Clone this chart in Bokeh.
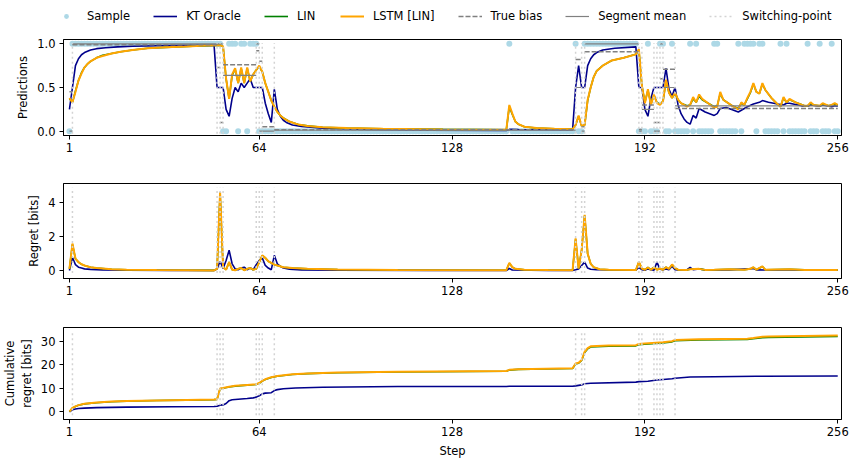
import numpy as np
from bokeh.plotting import figure
from bokeh.layouts import column
from bokeh.models import (FixedTicker, PrintfTickFormatter, Legend, LegendItem, Range1d)
from bokeh.core.properties import value
from bokeh.embed import file_html
from bokeh.resources import INLINE

# ---------------- data ----------------
n_steps = 256
x_ticks = [1, 64, 128, 192, 256]
switch_points = [2, 50, 51, 52, 63, 64, 65, 69, 169, 171, 172, 190, 191,
                 195, 196, 197, 198, 202]

# runs of steps where the sample was 1 (all other steps are 0)
sample_one_runs = [(2, 51), (54, 56), (58, 59), (61, 63), (147, 147), (169, 169),
                   (172, 189), (193, 193), (197, 198), (201, 201), (207, 207),
                   (209, 209), (215, 216), (223, 223), (225, 228), (230, 231),
                   (237, 237), (239, 239), (246, 246), (250, 250), (254, 254)]

seg_starts = [1, 2, 50, 51, 52, 63, 64, 65, 69, 169, 171, 172, 190, 191, 195, 196, 197, 198, 202]
seg_ends = [2, 50, 51, 52, 63, 64, 65, 69, 169, 171, 172, 190, 191, 195, 196, 197, 198, 202, 256]
true_bias = [0.45, 0.99, 0.73, 0.10, 0.76, 0.92, 0.80, 0.05, 0.015, 0.82, 0.05, 0.91,
             0.02, 0.30, 0.10, 0.10, 0.60, 0.71, 0.26]
segment_mean = [0.0, 1.0, 1.0, 1.0, 0.64, 1.0, 0.0, 0.0, 0.01, 0.5, 0.0, 1.0,
                0.0, 0.25, 0.0, 0.0, 1.0, 0.5, 0.29]

kt_pred = [(1, 0.25), (2, 0.5), (3, 0.75), (4, 0.83), (5, 0.875), (6, 0.9), (8, 0.93),
           (10, 0.945), (13, 0.955), (17, 0.965), (22, 0.972), (30, 0.978), (40, 0.983),
           (49, 0.985), (50, 0.5), (51, 0.5), (52, 0.5), (53, 0.25), (54, 0.17), (55, 0.375),
           (56, 0.5), (57, 0.45), (58, 0.55), (59, 0.5), (60, 0.55), (61, 0.6), (62, 0.5),
           (63, 0.5), (64, 0.5), (65, 0.5), (66, 0.32), (67, 0.2), (68, 0.1), (69, 0.48),
           (70, 0.25), (71, 0.17), (72, 0.125), (73, 0.1), (75, 0.07), (78, 0.055),
           (85, 0.035), (100, 0.02), (120, 0.012), (146, 0.007), (147, 0.02), (150, 0.018),
           (168, 0.015), (169, 0.5), (170, 0.75), (171, 0.5), (172, 0.5), (173, 0.75),
           (174, 0.83), (175, 0.875), (176, 0.9), (178, 0.93), (182, 0.95), (189, 0.965),
           (190, 0.5), (191, 0.5), (192, 0.25), (193, 0.17), (194, 0.375), (195, 0.5),
           (196, 0.5), (197, 0.5), (198, 0.5), (199, 0.72), (200, 0.48), (201, 0.4),
           (202, 0.5), (203, 0.3), (204, 0.2), (205, 0.14), (206, 0.1), (207, 0.08),
           (208, 0.18), (209, 0.15), (210, 0.26), (212, 0.22), (215, 0.18), (216, 0.2),
           (217, 0.26), (219, 0.27), (223, 0.22), (224, 0.24), (226, 0.28), (228, 0.31),
           (230, 0.33), (231, 0.35), (233, 0.33), (236, 0.31), (238, 0.3), (239, 0.32),
           (240, 0.32), (244, 0.29), (246, 0.285), (247, 0.3), (250, 0.285), (251, 0.3),
           (254, 0.28), (255, 0.29), (256, 0.285)]

lstm_pred = [(1, 0.38), (2, 0.33), (3, 0.45), (4, 0.58), (5, 0.66), (6, 0.73), (7, 0.77),
             (8, 0.8), (10, 0.84), (12, 0.86), (15, 0.89), (18, 0.91), (22, 0.93), (27, 0.95),
             (33, 0.96), (40, 0.97), (46, 0.98), (51, 0.985), (52, 0.97), (53, 0.6),
             (54, 0.37), (55, 0.65), (56, 0.72), (57, 0.55), (58, 0.73), (59, 0.55),
             (60, 0.73), (61, 0.57), (62, 0.65), (63, 0.7), (64, 0.75), (65, 0.68), (66, 0.55),
             (67, 0.45), (68, 0.35), (69, 0.28), (70, 0.22), (71, 0.18), (72, 0.15),
             (74, 0.11), (77, 0.075), (80, 0.06), (85, 0.045), (93, 0.035), (105, 0.027),
             (125, 0.02), (146, 0.015), (147, 0.3), (148, 0.2), (149, 0.11), (150, 0.08),
             (152, 0.05), (156, 0.035), (162, 0.027), (168, 0.023), (169, 0.07), (170, 0.18),
             (171, 0.06), (172, 0.07), (173, 0.36), (174, 0.5), (175, 0.62), (176, 0.69),
             (178, 0.75), (181, 0.81), (185, 0.84), (189, 0.88), (190, 0.94), (191, 0.52),
             (192, 0.32), (193, 0.48), (194, 0.3), (195, 0.42), (196, 0.32), (197, 0.3),
             (198, 0.34), (199, 0.59), (200, 0.44), (201, 0.38), (202, 0.44), (203, 0.36),
             (204, 0.32), (206, 0.28), (207, 0.3), (208, 0.39), (209, 0.33), (210, 0.42),
             (211, 0.37), (213, 0.32), (215, 0.27), (216, 0.28), (217, 0.45), (218, 0.36),
             (221, 0.29), (223, 0.25), (224, 0.33), (225, 0.3), (226, 0.38), (227, 0.45),
             (228, 0.55), (229, 0.45), (230, 0.43), (231, 0.55), (232, 0.47), (234, 0.38),
             (236, 0.31), (237, 0.28), (238, 0.39), (239, 0.33), (240, 0.37), (242, 0.33),
             (245, 0.29), (246, 0.29), (247, 0.33), (248, 0.3), (250, 0.29), (251, 0.32),
             (253, 0.29), (254, 0.3), (255, 0.32), (256, 0.3)]

lin_pred = [(1, 0.37), (2, 0.33), (3, 0.46), (4, 0.58), (5, 0.67), (6, 0.73), (7, 0.77),
            (8, 0.8), (10, 0.84), (12, 0.87), (15, 0.89), (18, 0.91), (22, 0.93), (27, 0.95),
            (33, 0.96), (40, 0.97), (46, 0.98), (51, 0.985), (52, 0.97), (53, 0.6),
            (54, 0.37), (55, 0.64), (56, 0.71), (57, 0.55), (58, 0.72), (59, 0.55),
            (60, 0.72), (61, 0.57), (62, 0.65), (63, 0.7), (64, 0.74), (65, 0.68), (66, 0.55),
            (67, 0.45), (68, 0.35), (69, 0.28), (70, 0.22), (71, 0.18), (72, 0.15),
            (74, 0.11), (77, 0.075), (80, 0.06), (85, 0.045), (93, 0.035), (105, 0.027),
            (125, 0.02), (146, 0.015), (147, 0.28), (148, 0.19), (149, 0.11), (150, 0.08),
            (152, 0.05), (156, 0.035), (162, 0.027), (168, 0.023), (169, 0.07), (170, 0.17),
            (171, 0.06), (172, 0.07), (173, 0.35), (174, 0.5), (175, 0.62), (176, 0.69),
            (178, 0.75), (181, 0.81), (185, 0.84), (189, 0.88), (190, 0.93), (191, 0.52),
            (192, 0.33), (193, 0.47), (194, 0.31), (195, 0.41), (196, 0.33), (197, 0.31),
            (198, 0.34), (199, 0.57), (200, 0.44), (201, 0.38), (202, 0.43), (203, 0.36),
            (204, 0.32), (206, 0.29), (207, 0.3), (208, 0.37), (209, 0.33), (210, 0.4),
            (211, 0.36), (213, 0.32), (215, 0.28), (216, 0.29), (217, 0.43), (218, 0.36),
            (221, 0.29), (223, 0.26), (224, 0.32), (225, 0.3), (226, 0.37), (227, 0.44),
            (228, 0.54), (229, 0.45), (230, 0.43), (231, 0.54), (232, 0.47), (234, 0.38),
            (236, 0.31), (237, 0.28), (238, 0.38), (239, 0.33), (240, 0.36), (242, 0.33),
            (245, 0.29), (246, 0.29), (247, 0.32), (248, 0.3), (250, 0.29), (251, 0.31),
            (253, 0.29), (254, 0.3), (255, 0.31), (256, 0.3)]

kt_regret = [(1, 0.0), (2, 0.77), (3, 0.35), (4, 0.2), (5, 0.15), (6, 0.1), (8, 0.07),
             (12, 0.04), (20, 0.02), (35, 0.01), (49, 0.005), (50, 0.1), (51, 0.55),
             (52, 0.12), (53, 0.6), (54, 1.2), (55, 0.4), (56, 0.1), (57, 0.05), (58, 0.15),
             (59, 0.2), (60, 0.05), (61, 0.15), (62, 0.05), (63, 0.35), (64, 0.6), (65, 0.75),
             (66, 0.3), (67, 0.15), (68, 0.05), (69, 0.9), (70, 0.4), (71, 0.25), (72, 0.15),
             (74, 0.08), (78, 0.04), (90, 0.02), (120, 0.01), (146, 0.005), (147, 0.12),
             (148, 0.03), (160, 0.01), (168, 0.005), (169, 0.05), (170, 0.1), (171, 0.3),
             (172, 0.5), (173, 0.15), (174, 0.08), (176, 0.05), (185, 0.03), (189, 0.03),
             (190, 0.18), (191, 0.05), (192, 0.02), (193, 0.1), (194, 0.05), (195, 0.02),
             (196, 0.5), (197, 0.08), (198, 0.05), (199, 0.1), (200, 0.05), (201, 0.25),
             (202, 0.05), (203, 0.03), (206, 0.06), (207, 0.18), (208, 0.05), (210, 0.1),
             (212, 0.03), (215, 0.05), (220, 0.04), (228, 0.12), (229, 0.04), (235, 0.03),
             (240, 0.05), (245, 0.03), (256, 0.02)]

lstm_regret = [(1, 0.1), (2, 1.6), (3, 0.71), (4, 0.5), (5, 0.37), (6, 0.3), (8, 0.2),
               (10, 0.15), (15, 0.08), (20, 0.05), (30, 0.03), (49, 0.01), (50, 0.1),
               (51, 4.65), (52, 0.2), (53, 0.05), (54, 0.5), (55, 0.05), (56, 0.02), (57, 0.1),
               (58, 0.15), (59, 0.02), (60, 0.1), (61, 0.15), (62, 0.05), (63, 0.1), (64, 0.5),
               (65, 0.9), (66, 0.75), (67, 0.55), (68, 0.45), (69, 0.35), (70, 0.3), (72, 0.2),
               (75, 0.15), (80, 0.1), (90, 0.06), (110, 0.03), (146, 0.02), (147, 0.45),
               (148, 0.2), (149, 0.1), (152, 0.05), (160, 0.03), (168, 0.02), (169, 1.9),
               (170, 0.12), (171, 1.2), (172, 3.3), (173, 1.0), (174, 0.4), (175, 0.2),
               (177, 0.08), (180, 0.05), (189, 0.03), (190, 0.51), (191, 0.12), (192, 0.05),
               (193, 0.18), (194, 0.05), (195, 0.2), (196, 0.05), (197, 0.12), (198, 0.05),
               (199, 0.2), (200, 0.1), (201, 0.36), (202, 0.15), (203, 0.05), (206, 0.04),
               (207, 0.08), (210, 0.1), (212, 0.04), (215, 0.05), (220, 0.08), (225, 0.05),
               (227, 0.1), (228, 0.2), (229, 0.05), (231, 0.25), (232, 0.05), (240, 0.08),
               (245, 0.04), (256, 0.03)]

lin_regret = [(1, 0.1), (2, 1.55), (3, 0.7), (4, 0.5), (5, 0.37), (6, 0.3), (8, 0.2),
              (10, 0.15), (15, 0.08), (20, 0.05), (30, 0.03), (49, 0.01), (50, 0.1),
              (51, 4.6), (52, 0.2), (53, 0.05), (54, 0.5), (55, 0.05), (56, 0.02), (57, 0.1),
              (58, 0.15), (59, 0.02), (60, 0.1), (61, 0.15), (62, 0.05), (63, 0.1), (64, 0.5),
              (65, 0.88), (66, 0.75), (67, 0.55), (68, 0.45), (69, 0.35), (70, 0.3), (72, 0.2),
              (75, 0.15), (80, 0.1), (90, 0.06), (110, 0.03), (146, 0.02), (147, 0.43),
              (148, 0.2), (149, 0.1), (152, 0.05), (160, 0.03), (168, 0.02), (169, 1.85),
              (170, 0.12), (171, 1.2), (172, 3.25), (173, 1.0), (174, 0.4), (175, 0.2),
              (177, 0.08), (180, 0.05), (189, 0.03), (190, 0.5), (191, 0.12), (192, 0.05),
              (193, 0.18), (194, 0.05), (195, 0.2), (196, 0.05), (197, 0.12), (198, 0.05),
              (199, 0.2), (200, 0.1), (201, 0.35), (202, 0.15), (203, 0.05), (206, 0.04),
              (207, 0.08), (210, 0.1), (212, 0.04), (215, 0.05), (220, 0.08), (225, 0.05),
              (227, 0.1), (228, 0.19), (229, 0.05), (231, 0.24), (232, 0.05), (240, 0.08),
              (245, 0.04), (256, 0.03)]

kt_cum = [(1, 0.0), (2, 0.8), (3, 1.15), (4, 1.35), (6, 1.55), (10, 1.75), (20, 1.95),
          (35, 2.1), (49, 2.2), (50, 2.3), (51, 2.8), (52, 2.9), (53, 3.5), (54, 4.7),
          (55, 5.1), (57, 5.3), (60, 5.6), (62, 5.9), (63, 6.2), (64, 6.8), (65, 7.6),
          (66, 7.9), (68, 8.1), (69, 9.0), (70, 9.4), (72, 9.8), (76, 10.1), (85, 10.4),
          (110, 10.7), (146, 10.75), (147, 10.8), (168, 10.85), (169, 11.0), (171, 11.4),
          (172, 11.9), (174, 12.1), (189, 12.6), (190, 12.8), (193, 12.95), (196, 13.5),
          (201, 14.0), (202, 14.2), (207, 14.75), (215, 14.9), (229, 15.05), (256, 15.2)]

lstm_cum = [(1, 0.0), (2, 1.6), (3, 2.3), (4, 2.8), (6, 3.4), (10, 3.9), (15, 4.3),
            (20, 4.55), (30, 4.8), (40, 5.0), (49, 5.2), (50, 5.3), (51, 9.9), (52, 10.1),
            (54, 10.6), (56, 11.0), (60, 11.4), (63, 11.7), (64, 12.2), (65, 13.1),
            (66, 13.8), (68, 14.7), (70, 15.2), (75, 15.9), (80, 16.3), (90, 16.7),
            (110, 17.0), (146, 17.3), (147, 17.8), (150, 18.1), (168, 18.5), (169, 20.5),
            (170, 20.8), (171, 22.0), (172, 25.5), (173, 27.0), (174, 27.8), (180, 28.1),
            (189, 28.3), (190, 28.8), (192, 29.0), (198, 29.5), (201, 30.0), (202, 30.5),
            (210, 30.8), (226, 31.0), (228, 31.3), (231, 31.9), (233, 32.0), (256, 32.4)]

lin_cum = [(1, 0.0), (2, 1.55), (3, 2.25), (4, 2.75), (6, 3.35), (10, 3.85), (15, 4.25),
           (20, 4.5), (30, 4.75), (40, 4.95), (49, 5.15), (50, 5.25), (51, 9.8), (52, 10.0),
           (54, 10.5), (56, 10.9), (60, 11.3), (63, 11.6), (64, 12.1), (65, 13.0),
           (66, 13.7), (68, 14.6), (70, 15.1), (75, 15.8), (80, 16.2), (90, 16.6),
           (110, 16.9), (146, 17.2), (147, 17.7), (150, 18.0), (168, 18.4), (169, 20.3),
           (170, 20.6), (171, 21.8), (172, 25.2), (173, 26.7), (174, 27.5), (180, 27.8),
           (189, 28.0), (190, 28.5), (192, 28.7), (198, 29.2), (201, 29.7), (202, 30.2),
           (210, 30.5), (226, 30.7), (228, 31.0), (231, 31.5), (233, 31.6), (256, 32.0)]

legend_labels = ["Sample", "KT Oracle", "LIN", "LSTM [LIN]", "True bias",
                 "Segment mean", "Switching-point"]

# ---------------- styling ----------------
FONT = "DejaVu Sans"
FS = "11.5px"
C_SAMPLE = "#ADD8E6"
C_KT = "#00008B"
C_LIN = "#008000"
C_LSTM = "#FFA500"
C_GRAY = "#808080"
C_SWITCH = "#D3D3D3"

X_RANGE = (-0.97, 257.25)
W = 851


def unzip(pairs):
    return [a for a, _ in pairs], [b for _, b in pairs]


steps = np.arange(1, n_steps + 1)
sample = np.zeros(n_steps)
for a, b in sample_one_runs:
    sample[a - 1:b] = 1.0


def make_fig(height, top, bottom, yr, yticks, yfmt, ylabel, xlabel=None):
    p = figure(width=W, height=height, output_backend="svg", toolbar_location=None,
               x_range=Range1d(*X_RANGE), y_range=Range1d(*yr),
               min_border_left=55, min_border_right=10,
               min_border_top=top, min_border_bottom=bottom)
    p.xgrid.visible = False
    p.ygrid.visible = False
    p.background_fill_color = "white"
    p.border_fill_color = "white"
    p.outline_line_color = "black"
    p.outline_line_alpha = 1.0
    p.outline_line_width = 1
    p.xaxis.ticker = FixedTicker(ticks=x_ticks)
    p.yaxis.ticker = FixedTicker(ticks=yticks)
    p.yaxis.formatter = PrintfTickFormatter(format=yfmt)
    p.yaxis.axis_label = ylabel
    if xlabel:
        p.xaxis.axis_label = xlabel
    for ax in p.axis:
        ax.major_label_text_font = FONT
        ax.major_label_text_font_size = FS
        ax.major_label_text_color = "black"
        ax.axis_label_text_font = FONT
        ax.axis_label_text_font_size = FS
        ax.axis_label_text_font_style = "normal"
        ax.axis_label_text_color = "black"
        ax.minor_tick_line_color = None
        ax.major_tick_out = 4
        ax.major_tick_in = 0
        ax.major_tick_line_color = "black"
        ax.axis_line_color = "black"
    p.xaxis.major_label_standoff = 3
    p.xaxis.axis_label_standoff = 5
    p.yaxis.major_label_standoff = 4
    p.yaxis.axis_label_standoff = 4
    return p


def add_switch_lines(p, lo, hi):
    return p.segment(x0=switch_points, y0=[lo] * len(switch_points),
                     x1=switch_points, y1=[hi] * len(switch_points),
                     line_color=C_SWITCH, line_width=1.5, line_dash=value("2 3"))


# ---------------- legend strip ----------------
# legend-only renderers: one point placed outside the visible range of this strip
p0 = figure(width=W, height=31, output_backend="svg", toolbar_location=None,
            x_range=Range1d(0, 1), y_range=Range1d(0, 1),
            x_axis_location=None, y_axis_location=None,
            min_border_left=55, min_border_right=10, min_border_top=0, min_border_bottom=0)
p0.xgrid.visible = False
p0.ygrid.visible = False
p0.outline_line_color = None
off = [5, 6]
l_sample = p0.scatter(off, off, size=6, color=C_SAMPLE, line_color=None)
l_kt = p0.line(off, off, line_color=C_KT, line_width=1.6)
l_lin = p0.line(off, off, line_color=C_LIN, line_width=1.6)
l_lstm = p0.line(off, off, line_color=C_LSTM, line_width=2)
l_true = p0.line(off, off, line_color=C_GRAY, line_width=1.5, line_dash="5 2")
l_mean = p0.line(off, off, line_color=C_GRAY, line_width=1.2)
l_sw = p0.line(off, off, line_color=C_SWITCH, line_width=1.5, line_dash="2 3")
legend = Legend(items=[LegendItem(label=lab, renderers=[r]) for lab, r in zip(
    legend_labels, [l_sample, l_kt, l_lin, l_lstm, l_true, l_mean, l_sw])],
    orientation="horizontal", location=(-9, 8))
legend.label_text_font = FONT
legend.label_text_font_size = FS
legend.label_text_color = "black"
legend.glyph_width = 24
legend.glyph_height = 12
legend.label_height = 12
legend.label_standoff = 9
legend.spacing = 23
legend.padding = 0
legend.margin = 0
legend.border_line_alpha = 0
legend.background_fill_alpha = 0
p0.add_layout(legend)

# ---------------- top panel: predictions ----------------
p1 = make_fig(126, 8, 22, (-0.05, 1.05), [0, 0.5, 1.0], "%.1f", "Predictions")
p1.scatter(steps, sample, size=6, color=C_SAMPLE, line_color=None)
x, y = unzip(kt_pred)
p1.line(x, y, line_color=C_KT, line_width=1.6)
x, y = unzip(lin_pred)
p1.line(x, y, line_color=C_LIN, line_width=1.6)
x, y = unzip(lstm_pred)
p1.line(x, y, line_color=C_LSTM, line_width=2)
p1.segment(x0=seg_starts, y0=true_bias, x1=seg_ends, y1=true_bias,
           line_color=C_GRAY, line_width=1.5, line_dash=value("5 2"))
p1.segment(x0=seg_starts, y0=segment_mean, x1=seg_ends, y1=segment_mean,
           line_color=C_GRAY, line_width=1.2)
add_switch_lines(p1, -0.03, 1.01)

# ---------------- middle panel: regret ----------------
p2 = make_fig(145, 26, 24, (-0.47, 5.15), [0, 2, 4], "%d", "Regret [bits]")
x, y = unzip(kt_regret)
p2.line(x, y, line_color=C_KT, line_width=1.6)
x, y = unzip(lin_regret)
p2.line(x, y, line_color=C_LIN, line_width=1.6)
x, y = unzip(lstm_regret)
p2.line(x, y, line_color=C_LSTM, line_width=2)
add_switch_lines(p2, -0.15, 4.9)

# ---------------- bottom panel: cumulative regret ----------------
p3 = make_fig(158, 25, 38, (-3.3, 35.8), [0, 10, 20, 30], "%d",
              "Cumulative\nregret [bits]", xlabel="Step")
x, y = unzip(kt_cum)
p3.line(x, y, line_color=C_KT, line_width=1.6)
x, y = unzip(lin_cum)
p3.line(x, y, line_color=C_LIN, line_width=1.6)
x, y = unzip(lstm_cum)
p3.line(x, y, line_color=C_LSTM, line_width=2)
add_switch_lines(p3, -1.5, 33.8)

layout = column(p0, p1, p2, p3, spacing=0)
open("out.html", "w").write(file_html(layout, INLINE))
